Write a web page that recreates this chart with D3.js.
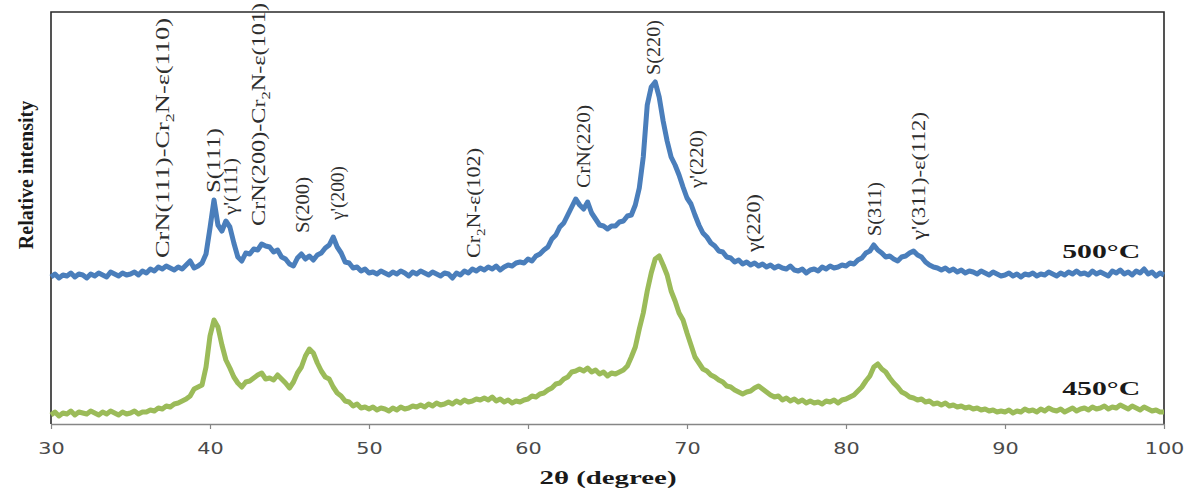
<!DOCTYPE html>
<html>
<head>
<meta charset="utf-8">
<script src="https://cdn.jsdelivr.net/npm/d3@7"></script>
<style>
  body { margin: 0; background: #fff; }
  svg { display: block; }
</style>
</head>
<body>
<div class="canvas"></div>
<script>
// 2θ sampling of both scans (degrees)
const thetaStart = 30;
const thetaStep = 0.25;

// 500°C scan, relative intensity (one value per 0.25°)
const scan500 = [
  147,150,146,149,148,151,147,150,149,146,150,148,151,149,147,152,150,148,151,149, // 30
  150,152,149,153,151,155,153,157,155,158,156,154,157,155,159,163,156,158,161,170, // 35
  196,224,199,193,203,197,181,167,163,171,170,175,174,180,178,177,172,174,167,165, // 40
  160,158,166,170,165,168,164,169,171,176,179,187,177,171,162,161,156,157,153,155, // 45
  151,152,150,153,151,149,152,150,153,151,148,152,150,153,151,149,152,150,148,151, // 50
  150,146,151,149,153,151,155,153,156,154,157,155,158,154,157,159,158,161,162,161, // 55
  165,163,168,170,174,177,185,189,197,201,209,217,225,219,215,222,211,205,199,198, // 60
  195,198,198,202,203,208,209,219,236,267,319,337,342,327,303,283,267,259,249,237, // 65
  226,220,209,199,191,187,181,178,173,172,167,166,162,164,160,162,159,161,158,160, // 70
  157,159,156,158,156,155,158,154,153,155,151,154,155,153,157,155,158,156,157,159, // 75
  158,161,160,164,166,171,173,179,174,171,167,168,165,163,167,168,171,173,169,167, // 80
  162,159,157,156,154,156,153,155,152,154,151,153,152,150,153,151,149,152,150,148, // 85
  149,151,148,150,147,150,149,151,148,150,149,152,150,148,151,149,152,150,153,150, // 90
  151,149,153,150,152,150,148,153,151,154,150,152,149,153,151,155,150,152,148,151, // 95
  149
];

// 450°C scan
const scan450 = [
  9,12,8,11,10,13,9,12,11,10,13,11,9,12,10,13,11,9,12,10,
  11,13,10,12,12,14,13,16,15,18,17,20,21,23,25,28,35,37,39,57,
  88,104,97,79,64,56,47,41,37,42,43,46,49,51,45,46,44,49,45,41,
  36,42,51,57,68,75,71,61,53,47,45,37,31,28,23,22,18,20,16,17,
  15,17,14,16,15,13,16,14,17,15,16,18,17,19,17,20,18,21,19,20,
  22,20,23,21,24,22,23,25,24,26,24,27,23,25,22,24,21,23,22,24,
  25,28,27,30,31,34,36,40,41,45,47,52,53,55,53,56,52,54,50,52,
  48,51,50,52,54,58,67,77,95,111,133,151,165,168,159,149,133,123,111,104,
  91,79,67,61,55,53,49,47,44,42,38,37,34,32,30,32,33,36,38,35,
  32,29,27,28,24,26,23,25,22,24,21,23,21,22,20,23,22,24,21,24,
  25,27,29,33,37,43,48,57,60,55,52,46,41,37,32,30,27,26,24,25,
  22,23,20,21,19,21,18,19,17,18,16,17,15,16,14,15,13,14,12,13,
  12,14,11,13,12,15,13,14,12,15,13,16,14,13,15,12,14,16,13,15,
  16,14,17,15,16,18,15,17,16,19,17,15,18,16,14,17,15,13,14,12,
  12
];

const seriesNames = ["500°C", "450°C"];
const xTicks = [30, 40, 50, 60, 70, 80, 90, 100];

// peak labels: 2θ, and the intensity where the rotated text begins / ends
const peakLabels = [
  { text: "CrN(111)-Cr_2N-ε(110)", theta: 37.04, from: 166, to: 406 },
  { text: "S(111)", theta: 40.19, from: 231, to: 296 },
  { text: "γ'(111)", theta: 41.26, from: 209, to: 266 },
  { text: "CrN(200)-Cr_2N-ε(101)", theta: 43.08, from: 198, to: 421 },
  { text: "S(200)", theta: 45.79, from: 191, to: 247 },
  { text: "γ'(200)", theta: 47.99, from: 204, to: 258 },
  { text: "Cr_2N-ε(102)", theta: 56.6, from: 166, to: 276 },
  { text: "CrN(220)", theta: 63.46, from: 236, to: 319 },
  { text: "S(220)", theta: 67.92, from: 349, to: 404 },
  { text: "γ'(220)", theta: 70.57, from: 236, to: 294 },
  { text: "γ(220)", theta: 74.2, from: 172, to: 230 },
  { text: "S(311)", theta: 81.82, from: 188, to: 242 },
  { text: "γ'(311)-ε(112)", theta: 84.53, from: 184, to: 312 },
];

// dimensions
const dims = { width: 1190, height: 491 };
const plot = { left: 51, right: 1164, top: 12, bottom: 424 };
const colors = ["#4a7ebb", "#9bbb59"];
const serif = "'Liberation Serif', 'Times New Roman', serif";

const svg = d3
  .select(".canvas")
  .append("svg")
  .attr("width", dims.width)
  .attr("height", dims.height);

// scales
const x = d3.scaleLinear().domain([30, 100]).range([plot.left, plot.right]);
const y = d3.scaleLinear().domain([0, 420]).range([plot.bottom, plot.bottom - 420]);

// frame (left, top, right)
svg
  .append("path")
  .attr("d", `M${plot.left},${plot.bottom}V${plot.top}H${plot.right}V${plot.bottom}`)
  .attr("fill", "none")
  .attr("stroke", "#2a2a2a")
  .attr("stroke-width", 1.6);

// x axis
const xAxis = d3
  .axisBottom(x)
  .tickValues(xTicks)
  .tickSize(5)
  .tickSizeOuter(0)
  .tickPadding(14)
  .tickFormat(d3.format("d"));

const xAxisGroup = svg
  .append("g")
  .attr("transform", `translate(0, ${plot.bottom})`)
  .call(xAxis);
xAxisGroup.select(".domain").attr("stroke", "#868686").attr("stroke-width", 1.4);
xAxisGroup.selectAll(".tick line").attr("stroke", "#868686").attr("stroke-width", 1.2);
xAxisGroup
  .selectAll(".tick text")
  .attr("font-family", "'DejaVu Sans', Verdana, sans-serif")
  .attr("font-size", 16)
  .attr("fill", "#4a4a4a")
  .attr("transform", "scale(1.3,1)");

// series lines
const line = d3
  .line()
  .x((d) => x(d.theta))
  .y((d) => y(d.value));

const series = [scan500, scan450].map((values, k) => ({
  name: seriesNames[k],
  color: colors[k],
  points: values.map((v, i) => ({ theta: thetaStart + i * thetaStep, value: v })),
}));

svg
  .append("g")
  .selectAll("path")
  .data(series)
  .enter()
  .append("path")
  .attr("d", (d) => line(d.points))
  .attr("fill", "none")
  .attr("stroke", (d) => d.color)
  .attr("stroke-width", 5)
  .attr("stroke-linejoin", "round");

// series names at the right end, just above each trace
svg
  .append("g")
  .selectAll("text")
  .data(series)
  .enter()
  .append("text")
  .attr("x", x(98.5))
  .attr("y", (d) => y(d.points[d.points.length - 1].value) - 17)
  .attr("text-anchor", "end")
  .attr("font-family", serif)
  .attr("font-weight", "bold")
  .attr("font-size", 19)
  .attr("fill", "#1a1a1a")
  .attr("textLength", 78)
  .attr("lengthAdjust", "spacingAndGlyphs")
  .text((d) => d.name);

// peak labels (rotated, with Cr2N subscripts)
const labelGroup = svg.append("g").attr("font-family", serif).attr("font-size", 19).attr("fill", "#2e2e2e");
peakLabels.forEach((d) => {
  const len = y(d.from) - y(d.to);
  const t = labelGroup
    .append("text")
    .attr("transform", `translate(${x(d.theta) + 6.5}, ${y(d.from)}) rotate(-90)`)
    .attr("textLength", len)
    .attr("lengthAdjust", "spacingAndGlyphs");
  d.text.split(/_(\d)/).forEach((part, i) => {
    const ts = t.append("tspan").text(part);
    if (i % 2 === 1) ts.attr("font-size", 13).attr("dy", 5);
    else if (i > 0) ts.attr("dy", -5);
  });
});

// axis titles
svg
  .append("text")
  .attr("x", 608)
  .attr("y", 484)
  .attr("text-anchor", "middle")
  .attr("font-family", serif)
  .attr("font-weight", "bold")
  .attr("font-size", 19)
  .attr("fill", "#1a1a1a")
  .attr("textLength", 137)
  .attr("lengthAdjust", "spacingAndGlyphs")
  .text("2θ (degree)");

svg
  .append("text")
  .attr("transform", "translate(33, 175) rotate(-90)")
  .attr("text-anchor", "middle")
  .attr("font-family", serif)
  .attr("font-weight", "bold")
  .attr("font-size", 20)
  .attr("fill", "#1a1a1a")
  .text("Relative intensity");
</script>
</body>
</html>
